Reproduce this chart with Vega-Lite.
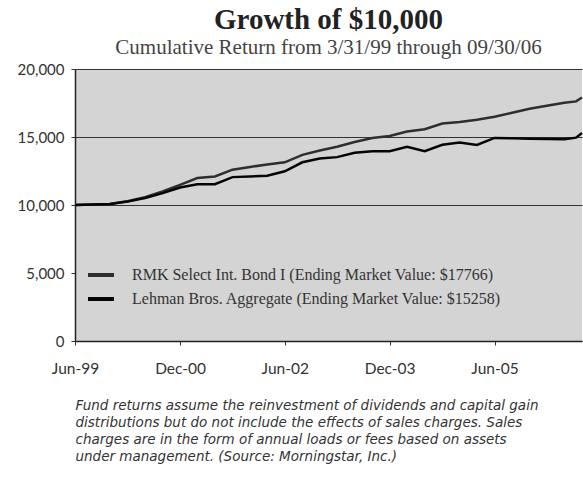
{
  "$schema": "https://vega.github.io/schema/vega-lite/v6.json",
  "autosize": {"type": "none"},
  "width": 507,
  "height": 272,
  "padding": {"left": 75, "top": 69, "right": 1, "bottom": 139},
  "background": "#ffffff",
  "title": {
    "text": "Growth of $10,000",
    "subtitle": "Cumulative Return from 3/31/99 through 09/30/06",
    "anchor": "middle",
    "font": "Liberation Serif",
    "fontSize": 29,
    "fontWeight": "bold",
    "color": "#222222",
    "subtitleFont": "Liberation Serif",
    "subtitleFontSize": 21,
    "subtitleColor": "#444444",
    "subtitlePadding": 2,
    "offset": 4
  },
  "config": {
    "view": {"stroke": null, "fill": "#d4d4d4"},
    "axis": {"labelFont": "Lato", "labelColor": "#333333", "tickColor": "#333333", "domainColor": "#222222"}
  },
  "data": {
    "values": [
      {"date": "1999-06-01", "series": "RMK Select Int. Bond I  (Ending Market Value: $17766)", "value": 10000},
      {"date": "1999-09-01", "series": "RMK Select Int. Bond I  (Ending Market Value: $17766)", "value": 10040},
      {"date": "1999-12-01", "series": "RMK Select Int. Bond I  (Ending Market Value: $17766)", "value": 10080},
      {"date": "2000-03-01", "series": "RMK Select Int. Bond I  (Ending Market Value: $17766)", "value": 10270},
      {"date": "2000-06-01", "series": "RMK Select Int. Bond I  (Ending Market Value: $17766)", "value": 10570},
      {"date": "2000-09-01", "series": "RMK Select Int. Bond I  (Ending Market Value: $17766)", "value": 10990},
      {"date": "2000-12-01", "series": "RMK Select Int. Bond I  (Ending Market Value: $17766)", "value": 11480},
      {"date": "2001-03-01", "series": "RMK Select Int. Bond I  (Ending Market Value: $17766)", "value": 11980},
      {"date": "2001-06-01", "series": "RMK Select Int. Bond I  (Ending Market Value: $17766)", "value": 12100},
      {"date": "2001-09-01", "series": "RMK Select Int. Bond I  (Ending Market Value: $17766)", "value": 12600},
      {"date": "2001-12-01", "series": "RMK Select Int. Bond I  (Ending Market Value: $17766)", "value": 12800},
      {"date": "2002-03-01", "series": "RMK Select Int. Bond I  (Ending Market Value: $17766)", "value": 12970},
      {"date": "2002-06-01", "series": "RMK Select Int. Bond I  (Ending Market Value: $17766)", "value": 13140},
      {"date": "2002-09-01", "series": "RMK Select Int. Bond I  (Ending Market Value: $17766)", "value": 13690},
      {"date": "2002-12-01", "series": "RMK Select Int. Bond I  (Ending Market Value: $17766)", "value": 14010},
      {"date": "2003-03-01", "series": "RMK Select Int. Bond I  (Ending Market Value: $17766)", "value": 14280},
      {"date": "2003-06-01", "series": "RMK Select Int. Bond I  (Ending Market Value: $17766)", "value": 14630},
      {"date": "2003-09-01", "series": "RMK Select Int. Bond I  (Ending Market Value: $17766)", "value": 14920},
      {"date": "2003-12-01", "series": "RMK Select Int. Bond I  (Ending Market Value: $17766)", "value": 15080},
      {"date": "2004-03-01", "series": "RMK Select Int. Bond I  (Ending Market Value: $17766)", "value": 15400},
      {"date": "2004-06-01", "series": "RMK Select Int. Bond I  (Ending Market Value: $17766)", "value": 15570},
      {"date": "2004-09-01", "series": "RMK Select Int. Bond I  (Ending Market Value: $17766)", "value": 15990},
      {"date": "2004-12-01", "series": "RMK Select Int. Bond I  (Ending Market Value: $17766)", "value": 16100},
      {"date": "2005-03-01", "series": "RMK Select Int. Bond I  (Ending Market Value: $17766)", "value": 16270},
      {"date": "2005-06-01", "series": "RMK Select Int. Bond I  (Ending Market Value: $17766)", "value": 16490},
      {"date": "2005-09-01", "series": "RMK Select Int. Bond I  (Ending Market Value: $17766)", "value": 16780},
      {"date": "2005-12-01", "series": "RMK Select Int. Bond I  (Ending Market Value: $17766)", "value": 17070},
      {"date": "2006-03-01", "series": "RMK Select Int. Bond I  (Ending Market Value: $17766)", "value": 17300},
      {"date": "2006-06-01", "series": "RMK Select Int. Bond I  (Ending Market Value: $17766)", "value": 17520},
      {"date": "2006-08-01", "series": "RMK Select Int. Bond I  (Ending Market Value: $17766)", "value": 17620},
      {"date": "2006-09-01", "series": "RMK Select Int. Bond I  (Ending Market Value: $17766)", "value": 17900},
      {"date": "1999-06-01", "series": "Lehman Bros. Aggregate  (Ending Market Value: $15258)", "value": 10000},
      {"date": "1999-09-01", "series": "Lehman Bros. Aggregate  (Ending Market Value: $15258)", "value": 10040},
      {"date": "1999-12-01", "series": "Lehman Bros. Aggregate  (Ending Market Value: $15258)", "value": 10070},
      {"date": "2000-03-01", "series": "Lehman Bros. Aggregate  (Ending Market Value: $15258)", "value": 10250},
      {"date": "2000-06-01", "series": "Lehman Bros. Aggregate  (Ending Market Value: $15258)", "value": 10520},
      {"date": "2000-09-01", "series": "Lehman Bros. Aggregate  (Ending Market Value: $15258)", "value": 10870},
      {"date": "2000-12-01", "series": "Lehman Bros. Aggregate  (Ending Market Value: $15258)", "value": 11290},
      {"date": "2001-03-01", "series": "Lehman Bros. Aggregate  (Ending Market Value: $15258)", "value": 11530},
      {"date": "2001-06-01", "series": "Lehman Bros. Aggregate  (Ending Market Value: $15258)", "value": 11530},
      {"date": "2001-09-01", "series": "Lehman Bros. Aggregate  (Ending Market Value: $15258)", "value": 12050},
      {"date": "2001-12-01", "series": "Lehman Bros. Aggregate  (Ending Market Value: $15258)", "value": 12100},
      {"date": "2002-03-01", "series": "Lehman Bros. Aggregate  (Ending Market Value: $15258)", "value": 12150},
      {"date": "2002-06-01", "series": "Lehman Bros. Aggregate  (Ending Market Value: $15258)", "value": 12480},
      {"date": "2002-09-01", "series": "Lehman Bros. Aggregate  (Ending Market Value: $15258)", "value": 13140},
      {"date": "2002-12-01", "series": "Lehman Bros. Aggregate  (Ending Market Value: $15258)", "value": 13420},
      {"date": "2003-03-01", "series": "Lehman Bros. Aggregate  (Ending Market Value: $15258)", "value": 13520},
      {"date": "2003-06-01", "series": "Lehman Bros. Aggregate  (Ending Market Value: $15258)", "value": 13840},
      {"date": "2003-09-01", "series": "Lehman Bros. Aggregate  (Ending Market Value: $15258)", "value": 13960},
      {"date": "2003-12-01", "series": "Lehman Bros. Aggregate  (Ending Market Value: $15258)", "value": 13960},
      {"date": "2004-03-01", "series": "Lehman Bros. Aggregate  (Ending Market Value: $15258)", "value": 14280},
      {"date": "2004-06-01", "series": "Lehman Bros. Aggregate  (Ending Market Value: $15258)", "value": 13960},
      {"date": "2004-09-01", "series": "Lehman Bros. Aggregate  (Ending Market Value: $15258)", "value": 14430},
      {"date": "2004-12-01", "series": "Lehman Bros. Aggregate  (Ending Market Value: $15258)", "value": 14600},
      {"date": "2005-03-01", "series": "Lehman Bros. Aggregate  (Ending Market Value: $15258)", "value": 14420},
      {"date": "2005-06-01", "series": "Lehman Bros. Aggregate  (Ending Market Value: $15258)", "value": 14930},
      {"date": "2005-09-01", "series": "Lehman Bros. Aggregate  (Ending Market Value: $15258)", "value": 14900},
      {"date": "2005-12-01", "series": "Lehman Bros. Aggregate  (Ending Market Value: $15258)", "value": 14880},
      {"date": "2006-03-01", "series": "Lehman Bros. Aggregate  (Ending Market Value: $15258)", "value": 14850},
      {"date": "2006-06-01", "series": "Lehman Bros. Aggregate  (Ending Market Value: $15258)", "value": 14830},
      {"date": "2006-08-01", "series": "Lehman Bros. Aggregate  (Ending Market Value: $15258)", "value": 14950},
      {"date": "2006-09-01", "series": "Lehman Bros. Aggregate  (Ending Market Value: $15258)", "value": 15300}
    ]
  },
  "mark": {"type": "line", "strokeWidth": 2.5, "interpolate": "linear"},
  "encoding": {
    "x": {
      "field": "date",
      "type": "temporal",
      "scale": {"type": "utc", "domain": [{"year": 1999, "month": 6, "date": 1, "utc": true}, {"year": 2006, "month": 9, "date": 1, "utc": true}]},
      "axis": {
        "values": [
          {"year": 1999, "month": 6, "date": 1, "utc": true},
          {"year": 2000, "month": 12, "date": 1, "utc": true},
          {"year": 2002, "month": 6, "date": 1, "utc": true},
          {"year": 2003, "month": 12, "date": 1, "utc": true},
          {"year": 2005, "month": 6, "date": 1, "utc": true}
        ],
        "format": "%b-%y",
        "labelFontSize": 15.5,
        "labelPadding": 16,
        "tickSize": 4,
        "domainWidth": 1.5,
        "grid": false,
        "labelFlush": false,
        "title": [
          "Fund returns assume the reinvestment of dividends and capital gain",
          "distributions but do not include the effects of sales charges.  Sales",
          "charges are in the form of annual loads or fees based on assets",
          "under management.  (Source: Morningstar, Inc.)"
        ],
        "titleFont": "DejaVu Sans",
        "titleFontStyle": "italic",
        "titleFontWeight": "normal",
        "titleFontSize": 13.5,
        "titleColor": "#333333",
        "titleAnchor": "start",
        "titleAlign": "left",
        "titleBaseline": "alphabetic",
        "titleX": 0,
        "titleY": 68,
        "titleLineHeight": 17
      }
    },
    "y": {
      "field": "value",
      "type": "quantitative",
      "scale": {"domain": [0, 20000], "nice": false},
      "axis": {
        "values": [0, 5000, 10000, 15000, 20000],
        "format": ",d",
        "labelFontSize": 15,
        "labelPadding": 7,
        "tickSize": 4,
        "domainWidth": 1.5,
        "grid": true,
        "gridColor": "#333333",
        "gridWidth": 1.2,
        "gridOpacity": {"condition": {"test": "datum.value <= 5000", "value": 0}, "value": 1},
        "title": null
      }
    },
    "color": {
      "field": "series",
      "type": "nominal",
      "sort": ["RMK Select Int. Bond I  (Ending Market Value: $17766)", "Lehman Bros. Aggregate  (Ending Market Value: $15258)"],
      "scale": {
        "domain": ["RMK Select Int. Bond I  (Ending Market Value: $17766)", "Lehman Bros. Aggregate  (Ending Market Value: $15258)"],
        "range": ["#2e2e2e", "#050505"]
      },
      "legend": {
        "orient": "none",
        "legendX": 11,
        "legendY": 191,
        "title": null,
        "symbolType": "stroke",
        "symbolSize": 676,
        "symbolStrokeWidth": 4,
        "labelFont": "Liberation Serif",
        "labelFontSize": 16,
        "labelColor": "#333333",
        "labelOffset": 16,
        "labelLimit": 520,
        "rowPadding": 1
      }
    }
  }
}
